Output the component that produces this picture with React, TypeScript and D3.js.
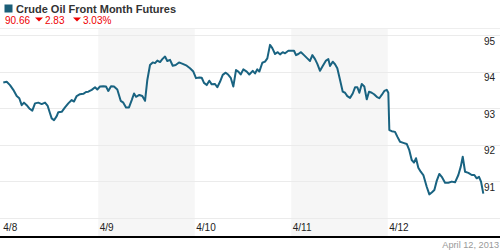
import * as d3 from 'd3';

// Crude oil front month, hours since 4/8 00:00 and price
const hours = [
  0.37, 1.22, 2.04, 2.86, 3.71, 4.35, 4.95, 5.52, 6.19, 6.84, 7.59, 8.26, 9.08, 9.93, 10.75, 11.42,
  11.99, 12.41, 12.99, 13.66, 14.06, 14.9, 15.72, 16.54, 17.39, 17.96, 18.63, 19.45, 20.28, 20.95,
  21.52, 22.37, 23.19, 23.76, 24.43, 25.25, 25.92, 26.5, 27.17, 27.91, 28.73, 29.58, 30.23, 30.9,
  31.64, 32.32, 32.89, 33.39, 34.21, 34.95, 35.63, 36.2, 36.87, 37.54, 38.11, 38.69, 39.36, 39.93,
  40.6, 41.17, 41.85, 42.52, 43.26, 44.08, 45.0, 46.0, 46.82, 47.64, 48.31, 49.13, 49.73, 50.3,
  50.98, 51.62, 52.22, 53.04, 53.61, 54.28, 54.96, 55.7, 56.35, 56.95, 57.59, 58.26, 58.84, 59.43,
  60.08, 60.93, 61.57, 62.42, 62.99, 63.56, 64.06, 64.81, 65.48, 66.05, 66.72, 67.29, 67.97, 68.64,
  69.21, 69.88, 70.46, 71.28, 72.12, 72.69, 73.19, 73.76, 74.43, 75.18, 76.0, 76.67, 77.25, 77.92,
  78.49, 79.16, 79.83, 80.65, 81.23, 81.65, 82.32, 82.89, 83.46, 84.14, 84.81, 85.38, 85.95, 86.63,
  87.3, 87.87, 88.45, 88.94, 89.54, 90.18, 90.78, 91.35, 92.02, 92.6, 93.27, 93.91, 94.51, 95.16,
  95.75, 96.15, 96.4, 97.0, 97.82, 98.39, 99.06, 99.88, 100.73, 101.37, 101.97, 102.54, 103.04,
  103.61, 104.21, 104.86, 105.7, 106.35, 106.95, 107.6, 108.19, 108.84, 109.44, 110.26, 111.08,
  111.93, 112.75, 113.57, 114.17, 114.66, 115.24, 116.06, 116.9, 117.55, 118.14, 118.71, 119.21, 119.78,
];
const prices = [
  93.7, 93.72, 93.63, 93.5, 93.33, 93.27, 93.08, 93.15, 93.08, 92.99, 92.93, 93.13, 93.15, 93.11, 93.15, 93.06,
  92.86, 92.72, 92.67, 92.78, 92.89, 92.9, 93.02, 93.13, 93.22, 93.18, 93.33, 93.38, 93.39, 93.44,
  93.45, 93.5, 93.57, 93.51, 93.59, 93.6, 93.59, 93.47, 93.6, 93.59, 93.51, 93.2, 93.15, 93.02,
  93.02, 93.22, 93.4, 93.31, 93.36, 93.33, 93.2, 93.77, 94.18, 94.25, 94.23, 94.3, 94.26, 94.34,
  94.41, 94.29, 94.32, 94.16, 94.18, 94.25, 94.21, 94.16, 94.09, 94.0, 93.82, 93.84, 93.83, 93.69,
  93.63, 93.75, 93.65, 93.66, 93.57, 93.72, 93.91, 93.97, 93.91, 93.83, 93.59, 94.04, 94.0, 93.92,
  94.06, 94.0, 93.92, 94.02, 93.95, 94.06, 94.0, 94.24, 94.27, 94.36, 94.73, 94.64, 94.48, 94.53,
  94.47, 94.53, 94.5, 94.57, 94.57, 94.57, 94.45, 94.48, 94.53, 94.45, 94.36, 94.29, 94.45, 94.34,
  94.21, 94.02, 94.15, 94.3, 94.34, 94.15, 94.27, 94.2, 94.09, 93.77, 93.45, 93.42, 93.33, 93.28,
  93.4, 93.57, 93.57, 93.42, 93.66, 93.59, 93.24, 93.45, 93.42, 93.38, 93.31, 93.27, 93.36, 93.47,
  93.5, 93.42, 92.4, 92.37, 92.35, 92.22, 92.08, 92.05, 92.02, 91.85, 91.58, 91.51, 91.63,
  91.37, 91.26, 91.17, 90.85, 90.64, 90.69, 90.76, 91.01, 91.2, 91.12, 90.96, 90.96,
  90.99, 90.97, 91.17, 91.4, 91.67, 91.26, 91.23, 91.17, 91.17, 91.08, 91.12, 90.99, 90.66,
];
const dayLabels = ['4/8', '4/9', '4/10', '4/11', '4/12'];
const shadedDays = [1, 3];
const yTicks = [90, 91, 92, 93, 94, 95];

const title = 'Crude Oil Front Month Futures';
const lastPrice = '90.66';
const change = '2.83';
const changePct = '3.03%';
const dateStamp = 'April 12, 2013';

const W = 500;
const H = 250;
const LINE = '#196381';
const RED = '#ee0000';
const FONT = 'Arial, "Liberation Sans", sans-serif';

export default function App() {
  const x = d3.scaleLinear().domain([0, 120]).range([1.8, 484.2]);
  const y = d3.scaleLinear().domain([90, 95]).range([217.8, 35]);
  const pts = hours.map((h, i) => [h, prices[i]] as [number, number]);
  const line = d3.line<[number, number]>().x(d => x(d[0])).y(d => y(d[1]));

  const tri = (cx: number, cy: number) => `M${cx - 4},${cy - 2}L${cx + 4},${cy - 2}L${cx},${cy + 2}Z`;

  return (
    <svg width={W} height={H} style={{ position: 'absolute', left: 0, top: 0 }} fontFamily={FONT}>
      <rect width={W} height={H} fill="#fff" />
      {/* shaded day bands */}
      {shadedDays.map(d => (
        <rect key={d} x={x(d * 24)} y={28} width={x((d + 1) * 24) - x(d * 24)} height={208} fill="#f6f6f6" />
      ))}
      <line x1={0} x2={W} y1={28.5} y2={28.5} stroke="#eeeeee" />
      {/* grid + y labels */}
      {yTicks.map(t => (
        <g key={t}>
          <line x1={0} x2={W} y1={Math.round(y(t)) + 0.5} y2={Math.round(y(t)) + 0.5} stroke="#ebebeb" />
          {t > 90 && (
            <text x={484} y={y(t) + 9.5} fontSize={10} fill="#222">{t}</text>
          )}
        </g>
      ))}
      {/* x labels */}
      {dayLabels.map((l, i) => (
        <text key={l} x={x(i * 24) + 1.5} y={231} fontSize={10} fill="#222">{l}</text>
      ))}
      <rect x={0} y={236} width={W} height={2} fill="#000" />
      <text x={499} y={248} fontSize={9.2} fill="#999" textAnchor="end">{dateStamp}</text>
      {/* price line */}
      <path d={line(pts) ?? ''} fill="none" stroke={LINE} strokeWidth={2} strokeLinejoin="round" />
      {/* header */}
      <rect x={4.5} y={4.5} width={8} height={8} fill="#1b5e78" />
      <text x={16} y={12.5} fontSize={11} fontWeight="bold" fill="#333">{title}</text>
      <text x={5} y={24} fontSize={10} fill={RED}>{lastPrice}</text>
      <path d={tri(39, 19.5)} fill={RED} />
      <text x={45} y={24} fontSize={10} fill={RED}>{change}</text>
      <path d={tri(77, 19.5)} fill={RED} />
      <text x={83} y={24} fontSize={10} fill={RED}>{changePct}</text>
    </svg>
  );
}
